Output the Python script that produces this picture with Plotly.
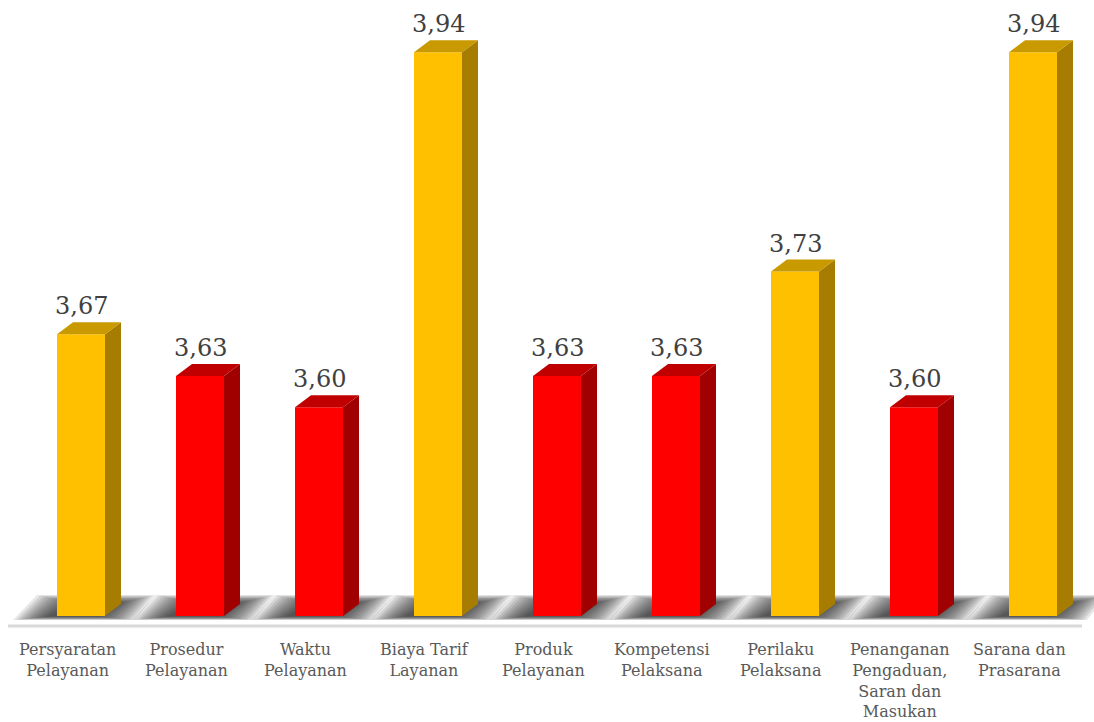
import plotly.graph_objects as go

# Service-quality indicator scores
categories = [
    "Persyaratan<br>Pelayanan",
    "Prosedur<br>Pelayanan",
    "Waktu<br>Pelayanan",
    "Biaya Tarif<br>Layanan",
    "Produk<br>Pelayanan",
    "Kompetensi<br>Pelaksana",
    "Perilaku<br>Pelaksana",
    "Penanganan<br>Pengaduan,<br>Saran dan<br>Masukan",
    "Sarana dan<br>Prasarana",
]
values = [3.67, 3.63, 3.60, 3.94, 3.63, 3.63, 3.73, 3.60, 3.94]
value_labels = ["3,67", "3,63", "3,60", "3,94", "3,63", "3,63", "3,73", "3,60", "3,94"]

W, H = 1094, 722
STEP_PX = 119.0          # pixel distance between categories
FIRST_PX = 81.0          # pixel centre of first bar's front face
Y_PX = 1044.0            # pixels per score unit
BASE = 3.4               # floor value
BASE_PX = 616.0          # pixel row of the floor
Y_MIN = 3.38

x0 = -FIRST_PX / STEP_PX
x1 = x0 + W / STEP_PX
plot_h = BASE_PX + (BASE - Y_MIN) * Y_PX
y_max = Y_MIN + plot_h / Y_PX
margin_b = H - plot_h


def ux(px):
    return px / STEP_PX


def uy(px):
    return px / Y_PX


bar_w = ux(48)
dx, dy = ux(16), uy(12)

palette = {
    "gold": ("#FFC000", "#C99A00", "#A67D00"),
    "red": ("#FF0000", "#C00000", "#A00000"),
}
color_keys = ["gold" if v >= 3.65 else "red" for v in values]

fig = go.Figure()


def poly_path(xs, ys):
    pts = " L ".join(f"{a:.5f},{b:.5f}" for a, b in zip(xs, ys))
    return f"M {pts} Z"


# soft floor shadows (stacked translucent parallelograms, under the bars)
N_LAYERS = 12
for i in range(len(values)):
    for k in range(N_LAYERS):
        s = k * 3.2
        v = k * 0.75
        tl, tr = i + ux(-44 + s), i + ux(74 - s)
        bl, br = i + ux(-68 + s), i + ux(54 - s)
        ytop = BASE + uy(21 - v)
        ybot = BASE - uy(4 - v * 0.45)
        fig.add_shape(
            type="path", path=poly_path([bl, tl, tr, br], [ybot, ytop, ytop, ybot]),
            fillcolor="rgba(25,25,25,0.105)", line=dict(width=0), layer="below",
        )

# side and top faces
for i, (v, ck) in enumerate(zip(values, color_keys)):
    front, top, side = palette[ck]
    xl, xr = i - bar_w / 2, i + bar_w / 2
    fig.add_trace(go.Scatter(
        x=[xr, xr + dx, xr + dx, xr, xr], y=[BASE, BASE + dy, v + dy, v, BASE],
        mode="lines", fill="toself", line=dict(width=0), fillcolor=side,
        hoverinfo="skip", showlegend=False,
    ))
    fig.add_trace(go.Scatter(
        x=[xl, xl + dx, xr + dx, xr, xl], y=[v, v + dy, v + dy, v, v],
        mode="lines", fill="toself", line=dict(width=0), fillcolor=top,
        hoverinfo="skip", showlegend=False,
    ))

# front faces
fig.add_trace(go.Bar(
    x=list(range(len(values))),
    y=[v - BASE for v in values],
    base=BASE,
    width=bar_w,
    marker=dict(color=[palette[c][0] for c in color_keys], line=dict(width=0)),
    hoverinfo="skip", showlegend=False,
))

# value labels
for i, (v, t) in enumerate(zip(values, value_labels)):
    fig.add_annotation(
        x=i, y=v + dy, text=t, showarrow=False, yanchor="bottom",
        yshift=0, font=dict(family="DejaVu Serif", size=24, color="#404040"),
    )

# category labels
for i, c in enumerate(categories):
    fig.add_annotation(
        x=i + ux(-14), y=BASE, text=c, showarrow=False, yanchor="top",
        yshift=-22, align="center",
        font=dict(family="DejaVu Serif", size=16, color="#595959"),
    )

# floor line
fig.add_shape(
    type="line", x0=ux(8) + x0, x1=ux(1082) + x0, y0=BASE - uy(10), y1=BASE - uy(10),
    line=dict(color="#D9D9D9", width=3), layer="below",
)

fig.update_layout(
    width=W, height=H,
    margin=dict(l=0, r=0, t=0, b=margin_b),
    plot_bgcolor="white", paper_bgcolor="white",
    xaxis=dict(range=[x0, x1], visible=False, fixedrange=True),
    yaxis=dict(range=[Y_MIN, y_max], visible=False, fixedrange=True),
    barmode="overlay",
    showlegend=False,
)

fig.write_html("out.html")
